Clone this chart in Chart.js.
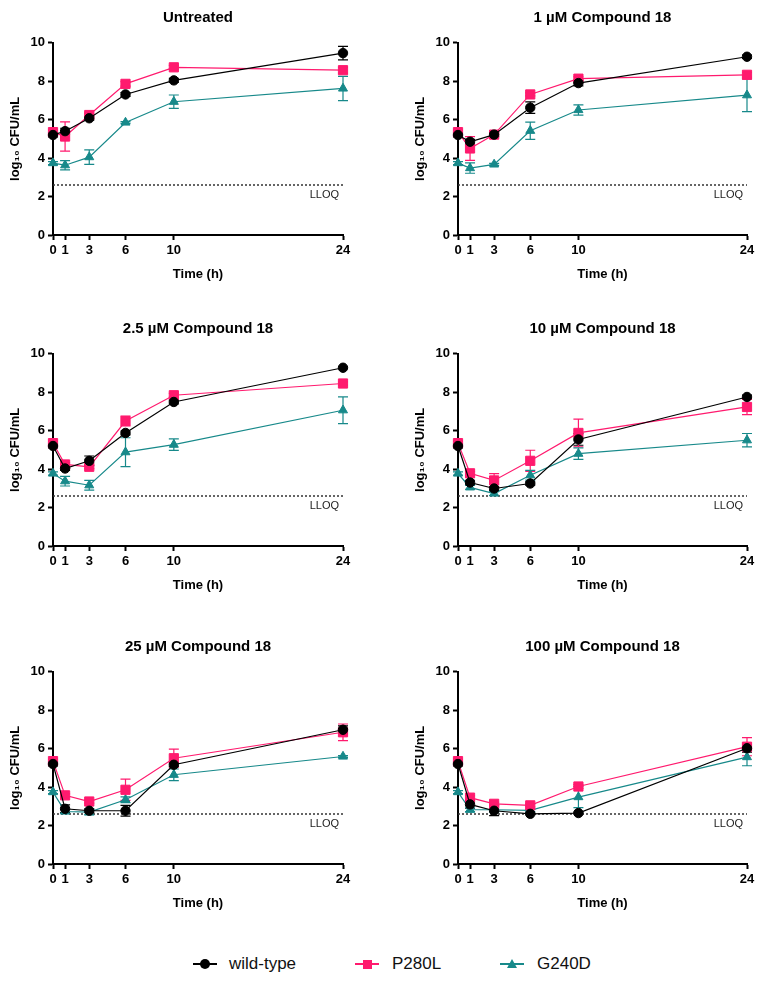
<!DOCTYPE html>
<html>
<head>
<meta charset="utf-8">
<title>Time-kill curves</title>
<script src="https://cdn.jsdelivr.net/npm/chart.js@4.4.0/dist/chart.umd.min.js"></script>
<style>
  body { margin: 0; background: #fff; overflow: hidden; }
  #page { position: relative; width: 759px; height: 982px; overflow: hidden; background: #fff; }
  #page canvas { position: absolute; }
  .lg-line { position: absolute; height: 1.5px; width: 24px; top: 963px; }
  .lg-mark { position: absolute; }
  .lg-text { position: absolute; top: 954px; line-height: 20px; font: 17px "Liberation Sans", Arial, sans-serif; color: #111; }
</style>
</head>
<body>
<div id="page">
  <canvas id="c0"></canvas>
  <canvas id="c1"></canvas>
  <canvas id="c2"></canvas>
  <canvas id="c3"></canvas>
  <canvas id="c4"></canvas>
  <canvas id="c5"></canvas>

  <!-- legend -->
  <div class="lg-line" style="left:193px;background:#000"></div>
  <div class="lg-mark" style="left:200px;top:959px;width:10px;height:10px;border-radius:50%;background:#000"></div>
  <div class="lg-text" style="left:229px">wild-type</div>

  <div class="lg-line" style="left:355px;background:#ff1a6e"></div>
  <div class="lg-mark" style="left:362.5px;top:959.5px;width:9px;height:9px;background:#ff1a6e"></div>
  <div class="lg-text" style="left:392px">P280L</div>

  <div class="lg-line" style="left:500px;background:#17898a"></div>
  <div class="lg-mark" style="left:507px;top:959px;width:0;height:0;border-left:5px solid transparent;border-right:5px solid transparent;border-bottom:9px solid #17898a"></div>
  <div class="lg-text" style="left:537px">G240D</div>
</div>

<script>
// x categories (sampling times) and axis ticks
const times = [0, 1, 3, 6, 10, 24];
const yTicks = [0, 2, 4, 6, 8, 10];
const lloq = 2.6;
const seriesNames = ["wild-type", "P280L", "G240D"];
const panelTitles = [
  "Untreated",
  "1 \u00b5M Compound 18",
  "2.5 \u00b5M Compound 18",
  "10 \u00b5M Compound 18",
  "25 \u00b5M Compound 18",
  "100 \u00b5M Compound 18"
];

// mean log10 CFU/mL and SD
const untreatedWT = [5.2, 5.4, 6.07, 7.31, 8.04, 9.46];
const untreatedWTErr = [0.1, 0.15, 0.1, 0.1, 0.1, 0.35];
const untreatedP280L = [5.35, 5.12, 6.24, 7.86, 8.72, 8.57];
const untreatedP280LErr = [0.1, 0.76, 0.1, 0.12, 0.1, 0.15];
const untreatedG240D = [3.74, 3.63, 4.05, 5.85, 6.93, 7.62];
const untreatedG240DErr = [0.08, 0.24, 0.38, 0.05, 0.35, 0.63];

const dose1WT = [5.2, 4.85, 5.22, 6.62, 7.9, 9.27];
const dose1WTErr = [0.1, 0.12, 0.1, 0.3, 0.15, 0.08];
const dose1P280L = [5.35, 4.5, 5.22, 7.31, 8.13, 8.33];
const dose1P280LErr = [0.1, 0.62, 0.1, 0.08, 0.1, 0.12];
const dose1G240D = [3.74, 3.48, 3.67, 5.42, 6.5, 7.27];
const dose1G240DErr = [0.08, 0.27, 0.05, 0.45, 0.27, 0.85];

const dose25WT = [5.2, 4.03, 4.43, 5.88, 7.49, 9.27];
const dose25WTErr = [0.1, 0.1, 0.25, 0.1, 0.1, 0.05];
const dose25P280L = [5.35, 4.24, 4.12, 6.5, 7.84, 8.45];
const dose25P280LErr = [0.1, 0.1, 0.1, 0.25, 0.1, 0.08];
const dose25G240D = [3.77, 3.37, 3.16, 4.88, 5.27, 7.06];
const dose25G240DErr = [0.08, 0.25, 0.25, 0.75, 0.3, 0.7];

const dose10WT = [5.2, 3.3, 2.99, 3.25, 5.54, 7.75];
const dose10WTErr = [0.1, 0.12, 0.1, 0.08, 0.3, 0.1];
const dose10P280L = [5.35, 3.78, 3.41, 4.43, 5.88, 7.23];
const dose10P280LErr = [0.1, 0.1, 0.35, 0.55, 0.72, 0.4];
const dose10G240D = [3.77, 3.05, 2.73, 3.68, 4.8, 5.5];
const dose10G240DErr = [0.08, 0.1, 0.1, 0.25, 0.3, 0.35];

const dose25uWT = [5.2, 2.87, 2.77, 2.77, 5.16, 6.98];
const dose25uWTErr = [0.1, 0.2, 0.1, 0.28, 0.1, 0.2];
const dose25uP280L = [5.35, 3.57, 3.25, 3.86, 5.5, 6.85];
const dose25uP280LErr = [0.1, 0.08, 0.08, 0.55, 0.47, 0.43];
const dose25uG240D = [3.74, 2.73, 2.7, 3.34, 4.64, 5.59];
const dose25uG240DErr = [0.08, 0.1, 0.15, 0.15, 0.3, 0.05];

const dose100WT = [5.2, 3.1, 2.77, 2.61, 2.65, 6.02];
const dose100WTErr = [0.1, 0.2, 0.25, 0.05, 0.05, 0.2];
const dose100P280L = [5.35, 3.45, 3.13, 3.05, 4.03, 6.1];
const dose100P280LErr = [0.1, 0.1, 0.08, 0.08, 0.1, 0.47];
const dose100G240D = [3.74, 2.82, 2.82, 2.79, 3.48, 5.56];
const dose100G240DErr = [0.08, 0.1, 0.1, 0.05, 0.55, 0.45];

const FONT = '"Liberation Sans", Arial, sans-serif';
const colors = ["#000000", "#ff1a6e", "#17898a"];
const pointStyles = ["circle", "rect", "triangle"];
const pointSizes = [4.7, 6.5, 5.2];

// panel placement on the page (left/top of canvas, width, right padding)
const panels = [
  { title: panelTitles[0], values: [untreatedWT, untreatedP280L, untreatedG240D],
    errors: [untreatedWTErr, untreatedP280LErr, untreatedG240DErr], left: 0, top: 0, width: 380, right: 37 },
  { title: panelTitles[1], values: [dose1WT, dose1P280L, dose1G240D],
    errors: [dose1WTErr, dose1P280LErr, dose1G240DErr], left: 405, top: 0, width: 354, right: 12 },
  { title: panelTitles[2], values: [dose25WT, dose25P280L, dose25G240D],
    errors: [dose25WTErr, dose25P280LErr, dose25G240DErr], left: 0, top: 311, width: 380, right: 37 },
  { title: panelTitles[3], values: [dose10WT, dose10P280L, dose10G240D],
    errors: [dose10WTErr, dose10P280LErr, dose10G240DErr], left: 405, top: 311, width: 354, right: 12 },
  { title: panelTitles[4], values: [dose25uWT, dose25uP280L, dose25uG240D],
    errors: [dose25uWTErr, dose25uP280LErr, dose25uG240DErr], left: 0, top: 629, width: 380, right: 37 },
  { title: panelTitles[5], values: [dose100WT, dose100P280L, dose100G240D],
    errors: [dose100WTErr, dose100P280LErr, dose100G240DErr], left: 405, top: 629, width: 354, right: 12 }
];

// SD bars, drawn under the symbols
const errorBars = {
  id: "errorBars",
  beforeDatasetsDraw(chart) {
    const ctx = chart.ctx;
    const xs = chart.scales.x;
    const ys = chart.scales.y;
    chart.data.datasets.forEach((ds) => {
      if (!ds.errors) return;
      ctx.save();
      ctx.strokeStyle = ds.borderColor;
      ctx.lineWidth = 1.2;
      ds.data.forEach((p, i) => {
        const e = ds.errors[i];
        if (!e) return;
        const px = xs.getPixelForValue(p.x);
        const top = ys.getPixelForValue(p.y + e);
        const bot = ys.getPixelForValue(p.y - e);
        ctx.beginPath();
        ctx.moveTo(px, top);
        ctx.lineTo(px, bot);
        ctx.moveTo(px - 5, top);
        ctx.lineTo(px + 5, top);
        ctx.moveTo(px - 5, bot);
        ctx.lineTo(px + 5, bot);
        ctx.stroke();
      });
      ctx.restore();
    });
  }
};

// "LLOQ" tag under the dotted line
const lloqLabel = {
  id: "lloqLabel",
  afterDatasetsDraw(chart) {
    const ctx = chart.ctx;
    const px = chart.scales.x.getPixelForValue(times[times.length - 1]) - 4;
    const py = chart.scales.y.getPixelForValue(lloq) + 10;
    ctx.save();
    ctx.font = "11px " + FONT;
    ctx.fillStyle = "#222";
    ctx.textAlign = "right";
    ctx.textBaseline = "middle";
    ctx.fillText("LLOQ", px, py);
    ctx.restore();
  }
};

function makePanel(idx, p) {
  const canvas = document.getElementById("c" + idx);
  canvas.width = p.width;
  canvas.height = 300;
  canvas.style.left = p.left + "px";
  canvas.style.top = p.top + "px";

  const datasets = seriesNames.map((name, s) => ({
    label: name,
    data: times.map((t, i) => ({ x: t, y: p.values[s][i] })),
    errors: p.errors[s],
    borderColor: colors[s],
    backgroundColor: colors[s],
    borderWidth: 1.2,
    pointStyle: pointStyles[s],
    pointRadius: pointSizes[s],
    pointBorderWidth: 1,
    tension: 0,
    clip: false
  }));

  datasets.push({
    label: "LLOQ",
    data: [{ x: times[0], y: lloq }, { x: times[times.length - 1], y: lloq }],
    borderColor: "#333",
    borderWidth: 1.5,
    borderDash: [2, 2],
    pointRadius: 0,
    tension: 0
  });

  const bold13 = { family: FONT, size: 13, weight: "bold" };

  new Chart(canvas, {
    type: "line",
    data: { datasets: datasets },
    plugins: [errorBars, lloqLabel],
    options: {
      responsive: false,
      animation: false,
      layout: { padding: { left: 0, top: 0, right: p.right, bottom: 18 } },
      plugins: {
        legend: { display: false },
        tooltip: { enabled: false },
        title: {
          display: true,
          text: p.title,
          fullSize: false,
          color: "#000",
          font: { family: FONT, size: 15, weight: "bold" },
          padding: { top: 9, bottom: 15.7 }
        }
      },
      scales: {
        x: {
          type: "linear",
          min: times[0],
          max: times[times.length - 1],
          afterBuildTicks: (scale) => {
            scale.ticks = times.map((v) => ({ value: v }));
          },
          afterFit: (scale) => {
            scale.height = 47;
          },
          grid: { drawOnChartArea: false, tickLength: 5, tickWidth: 2, tickColor: "#000" },
          border: { display: true, color: "#000", width: 2 },
          ticks: { color: "#000", font: bold13, padding: 3, autoSkip: false, maxRotation: 0 },
          title: { display: true, text: "Time (h)", color: "#000", font: bold13, padding: { top: 4, bottom: 0 } }
        },
        y: {
          type: "linear",
          min: yTicks[0],
          max: yTicks[yTicks.length - 1],
          afterBuildTicks: (scale) => {
            scale.ticks = yTicks.map((v) => ({ value: v }));
          },
          afterFit: (scale) => {
            scale.width = 53;
          },
          grid: { drawOnChartArea: false, tickLength: 5, tickWidth: 2, tickColor: "#000" },
          border: { display: true, color: "#000", width: 2 },
          ticks: { color: "#000", font: bold13, padding: 3 },
          title: { display: true, text: "log\u2081\u2080 CFU/mL", color: "#000", font: bold13, padding: { top: 8, bottom: 0 } }
        }
      }
    }
  });
}

panels.forEach((p, i) => makePanel(i, p));
</script>
</body>
</html>
